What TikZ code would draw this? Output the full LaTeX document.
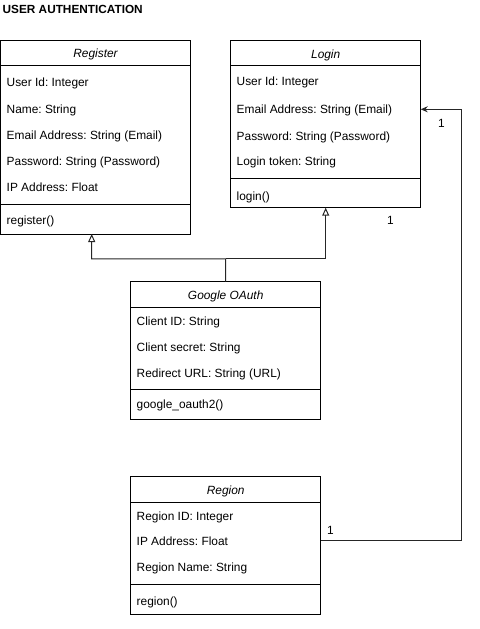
\documentclass[tikz,border=0pt]{standalone}
\usepackage{fontspec}
\setmainfont{Liberation Sans}
\usetikzlibrary{arrows.meta}
\frenchspacing
\begin{document}
\begin{tikzpicture}[x=1bp,y=-1bp,
  umlbox/.style={draw=black, line width=1bp, fill=white, anchor=north west, inner sep=0pt, outer sep=0pt, minimum width=190bp},
  sep/.style={draw=black, line width=1bp},
  hdr/.style={font=\fontsize{11.9bp}{14bp}\selectfont\itshape, inner sep=0pt, text height=8.6bp, text depth=0pt, anchor=center},
  attr/.style={font=\fontsize{11.9bp}{14bp}\selectfont, inner sep=0pt, text height=8.6bp, text depth=0pt, anchor=west},
  mult/.style={font=\fontsize{11.9bp}{14bp}\selectfont, inner sep=0pt, text height=8.6bp, text depth=0pt, anchor=center},
  inh/.style={draw=black!85, line width=1bp, -{Triangle[open, length=8bp, width=7bp]}},
  assoc/.style={draw=black!85, line width=1bp, -{Stealth[length=7bp, width=6bp]}}
]
\useasboundingbox (0,0) rectangle (480,629);

% title
\node[font=\fontsize{11.8bp}{14bp}\selectfont\bfseries, inner sep=0pt, text height=8.6bp, text depth=0pt, anchor=west] (title) at (2.5,9.3) {USER AUTHENTICATION};

% Register
\node[umlbox, minimum height=193.5bp] (reg) at (0.5,40.5) {};
\draw[sep] (0.5,66) -- (190.5,66);
\draw[sep] (0.5,204) -- (190.5,204);
\node[hdr] (regH) at (95.5,53.3) {Register};
\node[attr] (reg1) at (6.5,82) {User Id: Integer};
\node[attr] (reg2) at (6.5,109) {Name: String};
\node[attr] (reg3) at (6.5,135.5) {Email Address: String (Email)};
\node[attr] (reg4) at (6.5,161.5) {Password: String (Password)};
\node[attr] (reg5) at (6.5,187) {IP Address: Float};
\node[attr] (regM) at (6.5,220.5) {register()};

% Login
\node[umlbox, minimum height=167bp] (login) at (230.7,40.7) {};
\draw[sep] (230.7,66) -- (420.7,66);
\draw[sep] (230.7,178) -- (420.7,178);
\node[hdr] (loginH) at (325.7,54) {Login};
\node[attr] (log1) at (236.5,81.7) {User Id: Integer};
\node[attr] (log2) at (236.5,109.7) {Email Address: String (Email)};
\node[attr] (log3) at (236.5,135.8) {Password: String (Password)};
\node[attr] (log4) at (236.5,161.5) {Login token: String};
\node[attr] (logM) at (236.5,195.7) {login()};

% Google OAuth
\node[umlbox, minimum height=137.3bp] (goog) at (130.7,281.7) {};
\draw[sep] (130.7,307) -- (320.7,307);
\draw[sep] (130.7,389) -- (320.7,389);
\node[hdr] (googH) at (225.7,294.7) {Google OAuth};
\node[attr] (goog1) at (136.5,320.7) {Client ID: String};
\node[attr] (goog2) at (136.5,346.7) {Client secret: String};
\node[attr] (goog3) at (136.5,373) {Redirect URL: String (URL)};
\node[attr] (googM) at (136.5,404) {google\_oauth2()};

% Region
\node[umlbox, minimum height=138bp] (rgn) at (130.7,476) {};
\draw[sep] (130.7,502.7) -- (320.7,502.7);
\draw[sep] (130.7,584.3) -- (320.7,584.3);
\node[hdr] (rgnH) at (225.7,489.7) {Region};
\node[attr] (rgn1) at (136.5,516) {Region ID: Integer};
\node[attr] (rgn2) at (136.5,541.5) {IP Address: Float};
\node[attr] (rgn3) at (136.5,567.3) {Region Name: String};
\node[attr] (rgnM) at (136.5,601.5) {region()};

% connectors
\coordinate (split) at (225.7,258.8);
\coordinate (regIn) at (91.7,234);
\draw[inh] (goog.north) -- (split) -| (regIn);
\draw[inh] (split) -| (login.south);

\coordinate (rgnOut) at (320.7,540.7);
\coordinate (bendUp) at (461,540.7);
\coordinate (bendTop) at (461,109.3);
\coordinate (logIn) at (420.7,109.3);
\draw[assoc] (rgnOut) -- (bendUp) -- (bendTop) -- (logIn);

% multiplicities
\node[mult] (m1) at (441.5,123.5) {1};
\node[mult] (m2) at (390.5,220) {1};
\node[mult] (m3) at (330.5,530) {1};
\end{tikzpicture}
\end{document}
